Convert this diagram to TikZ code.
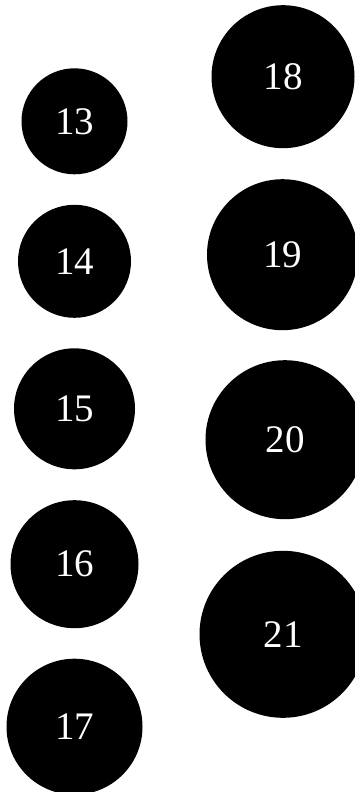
\documentclass[tikz,border=0pt]{standalone}
\usepackage{fontspec}
\setmainfont{Liberation Serif}
\usepackage{tikz}
\tikzset{
  ball/.style={circle,fill=black,text=white,inner sep=0pt,font=\fontsize{39}{39}\selectfont}
}
\begin{document}
\begin{tikzpicture}[x=1pt,y=-1pt]
\useasboundingbox (0,0) rectangle (354,792);
% left column
\node[ball,minimum size=106pt] (b13) at (74.5,121.3) {13};
\node[ball,minimum size=113pt] (b14) at (74.5,261.3) {14};
\node[ball,minimum size=121pt] (b15) at (74.5,408.8) {15};
\node[ball,minimum size=128pt] (b16) at (74.5,564.2) {16};
\node[ball,minimum size=136pt] (b17) at (74.5,726.7) {17};
% right column
\node[ball,minimum size=143pt] (b18) at (283,76.7) {18};
\node[ball,minimum size=151pt] (b19) at (282.5,254.7) {19};
\node[ball,minimum size=159pt] (b20) at (285,439.7) {20};
\node[ball,minimum size=167pt] (b21) at (283,634.3) {21};
\end{tikzpicture}
\end{document}
